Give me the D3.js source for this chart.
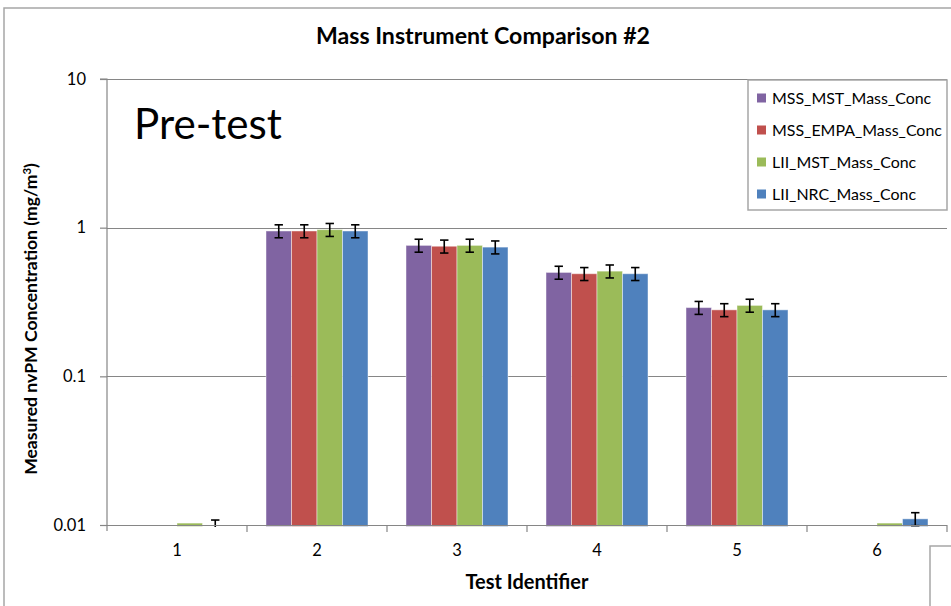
<!DOCTYPE html>
<html>
<head>
<meta charset="utf-8">
<script src="https://cdn.jsdelivr.net/npm/d3@7/dist/d3.min.js"></script>
<style>
  html, body { margin: 0; padding: 0; background: #fff; }
  svg { display: block; font-family: Lato, "Open Sans", "Liberation Sans", sans-serif; }
</style>
</head>
<body>
<svg id="chart" width="951" height="606"></svg>
<script>
// ---- data ----
const categories = ["1", "2", "3", "4", "5", "6"];
const seriesNames = ["MSS_MST_Mass_Conc", "MSS_EMPA_Mass_Conc", "LII_MST_Mass_Conc", "LII_NRC_Mass_Conc"];
const seriesColors = ["#8064A2", "#C0504D", "#9BBB59", "#4F81BD"];

const mssMstValues  = [null,   0.95, 0.76, 0.50, 0.29, null];
const mssEmpaValues = [null,   0.95, 0.75, 0.49, 0.28, null];
const liiMstValues  = [0.0103, 0.97, 0.76, 0.51, 0.30, 0.0103];
const liiNrcValues  = [0.0098, 0.95, 0.74, 0.49, 0.28, 0.011];

const mssMstErrors  = [null,   0.095, 0.076, 0.050, 0.029, null];
const mssEmpaErrors = [null,   0.095, 0.075, 0.049, 0.028, null];
const liiMstErrors  = [null,   0.097, 0.076, 0.051, 0.030, null];
const liiNrcErrors  = [0.001,  0.095, 0.074, 0.049, 0.028, 0.0011];

const yTickValues = [0.01, 0.1, 1, 10];
const yTickLabels = ["0.01", "0.1", "1", "10"];

const seriesValues = [mssMstValues, mssEmpaValues, liiMstValues, liiNrcValues];
const seriesErrors = [mssMstErrors, mssEmpaErrors, liiMstErrors, liiNrcErrors];

// ---- layout ----
const svg = d3.select("#chart");
const plot = { left: 107, right: 947, top: 79, bottom: 525 };
const axisColor = "#868686";

// outer chart frame (extends past the window edges)
svg.append("path")
  .attr("d", "M4,620 L4,8 L960,8")
  .attr("fill", "none").attr("stroke", "#a6a6a6").attr("stroke-width", 1.5);

// helper: scale a text's font size so it spans a target width
function fitWidth(sel, target) {
  const node = sel.node();
  const fs = parseFloat(sel.attr("font-size"));
  const w = node.getComputedTextLength();
  if (w > 0) sel.attr("font-size", (fs * target / w).toFixed(2));
  return sel;
}

const x0 = d3.scaleBand().domain(categories).range([plot.left, plot.right]).paddingInner(0).paddingOuter(0);
const x1 = d3.scaleBand().domain(seriesNames).range([0, x0.bandwidth()]).paddingInner(0).paddingOuter(0.745);
const y = d3.scaleLog().domain([0.01, 10]).range([plot.bottom, plot.top]);

// horizontal gridlines at decades
svg.append("g").selectAll("line").data(yTickValues.slice(1)).join("line")
  .attr("x1", plot.left).attr("x2", plot.right)
  .attr("y1", d => Math.round(y(d)) + 0.5).attr("y2", d => Math.round(y(d)) + 0.5)
  .attr("stroke", axisColor).attr("stroke-width", 1.2);

// clip so bars/error bars do not dip under the 0.01 baseline
svg.append("clipPath").attr("id", "plotClip").append("rect")
  .attr("x", plot.left).attr("y", plot.top - 20)
  .attr("width", plot.right - plot.left).attr("height", plot.bottom - plot.top + 20 + 2);

// bars
const barRows = [];
seriesNames.forEach((s, si) => {
  categories.forEach((c, ci) => {
    const v = seriesValues[si][ci];
    if (v == null) return;
    barRows.push({ s, si, c, v, e: seriesErrors[si][ci] });
  });
});

const gBars = svg.append("g").attr("clip-path", "url(#plotClip)");
gBars.selectAll("rect").data(barRows.filter(d => d.v > 0.01)).join("rect")
  .attr("x", d => x0(d.c) + x1(d.s))
  .attr("width", x1.bandwidth())
  .attr("y", d => y(d.v))
  .attr("height", d => y(0.01) - y(d.v) + 1.5)
  .attr("fill", d => seriesColors[d.si])
  .attr("stroke", "rgba(255,255,255,0.45)").attr("stroke-width", 1);

// error bars
const gErr = svg.append("g").attr("clip-path", "url(#plotClip)")
  .attr("stroke", "#000").attr("stroke-width", 1.6).attr("fill", "none");
const capHalf = 4.2;
barRows.filter(d => d.e != null).forEach(d => {
  const cx = x0(d.c) + x1(d.s) + x1.bandwidth() / 2;
  const hi = d.v + d.e, lo = Math.max(d.v - d.e, 1e-4);
  gErr.append("line").attr("x1", cx).attr("x2", cx).attr("y1", y(hi)).attr("y2", y(lo));
  gErr.append("line").attr("x1", cx - capHalf).attr("x2", cx + capHalf).attr("y1", y(hi)).attr("y2", y(hi));
  gErr.append("line").attr("x1", cx - capHalf).attr("x2", cx + capHalf).attr("y1", y(lo)).attr("y2", y(lo));
});

// y axis
const yAxis = d3.axisLeft(y).tickValues(yTickValues)
  .tickFormat((d, i) => yTickLabels[i]).tickSize(7).tickPadding(14);
const gy = svg.append("g").attr("transform", `translate(${plot.left},0)`).call(yAxis);
gy.select(".domain").attr("stroke", axisColor).attr("stroke-width", 1.2)
  .attr("d", `M-7,${plot.top}H0V${plot.bottom + 6}`);
gy.selectAll(".tick line").attr("stroke", axisColor).attr("stroke-width", 1.2);
gy.selectAll(".tick text").attr("font-size", 16.5).attr("fill", "#000")
  .attr("font-family", "Lato, sans-serif");

// x axis
const xAxis = d3.axisBottom(x0).tickSize(0).tickPadding(19);
const gx = svg.append("g").attr("transform", `translate(0,${plot.bottom})`).call(xAxis);
gx.select(".domain").attr("stroke", axisColor).attr("stroke-width", 1.2)
  .attr("d", `M${plot.left},0.5H${plot.right}`);
gx.selectAll(".tick text").attr("font-size", 16.5).attr("fill", "#000")
  .attr("font-family", "Lato, sans-serif");
// category separators
svg.append("g").selectAll("line").data(categories.slice(1).concat(["end"])).join("line")
  .attr("x1", d => d === "end" ? plot.right : x0(d))
  .attr("x2", d => d === "end" ? plot.right : x0(d))
  .attr("y1", plot.bottom).attr("y2", plot.bottom + 7)
  .attr("stroke", axisColor).attr("stroke-width", 1.2);

// title
fitWidth(svg.append("text").text("Mass Instrument Comparison #2")
  .attr("x", 483).attr("y", 44).attr("text-anchor", "middle")
  .attr("font-weight", "bold").attr("font-size", 17), 334);

// in-plot annotation
fitWidth(svg.append("text").text("Pre-test")
  .attr("x", 134).attr("y", 139).attr("font-size", 40), 148);

// axis titles
fitWidth(svg.append("text")
  .attr("transform", "translate(37,319) rotate(-90)")
  .attr("text-anchor", "middle").attr("font-weight", "bold").attr("font-size", 15)
  .call(t => {
    t.append("tspan").text("Measured nvPM Concentration (mg/m");
    t.append("tspan").text("3").attr("font-size", "0.65em").attr("dy", "-0.55em");
    t.append("tspan").text(")").attr("dy", "0.36em");
  }), 312);

fitWidth(svg.append("text").text("Test Identifier")
  .attr("x", 527).attr("y", 589).attr("text-anchor", "middle")
  .attr("font-weight", "bold").attr("font-size", 15), 123);

// legend
const legend = svg.append("g");
legend.append("rect").attr("x", 748).attr("y", 80).attr("width", 199).attr("height", 130)
  .attr("fill", "#fff").attr("stroke", "#a6a6a6").attr("stroke-width", 1.5);
const items = legend.selectAll("g").data(seriesNames).join("g")
  .attr("transform", (d, i) => `translate(757,${98 + i * 32})`);
items.append("rect").attr("x", 0).attr("y", -4.5).attr("width", 9).attr("height", 9)
  .attr("fill", (d, i) => seriesColors[i]);
const labels = items.append("text").text(d => d).attr("x", 15).attr("dy", "0.36em")
  .attr("font-size", 14);
const longest = labels.filter(d => d === "MSS_EMPA_Mass_Conc");
fitWidth(longest, 170);
labels.attr("font-size", longest.attr("font-size"));

// neighbouring frame at the bottom right
svg.append("path").attr("d", "M930,620 L930,546 L960,546")
  .attr("fill", "none").attr("stroke", "#a6a6a6").attr("stroke-width", 1.5);
</script>
</body>
</html>
